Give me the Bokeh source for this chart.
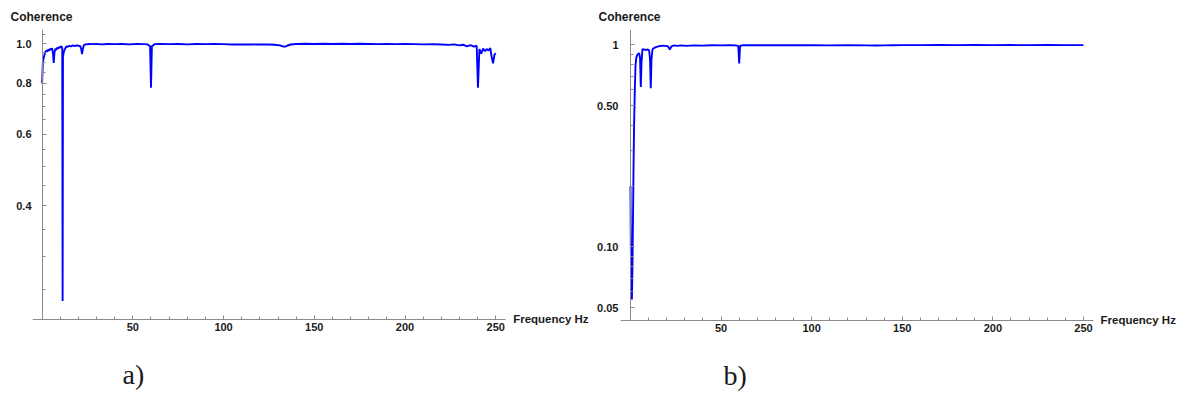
from bokeh.plotting import figure
from bokeh.models import (Range1d, FixedTicker, Label, Title, LogAxis,
                          CustomJSTickFormatter, PrintfTickFormatter)
from bokeh.layouts import row
from bokeh.embed import file_html
from bokeh.resources import INLINE

# ---------------- data ----------------
freq_a = [0, 0.4, 0.8, 1.2, 1.6, 2.0, 2.5, 3.0, 3.5, 4.0, 4.5, 5.0, 5.5, 6.0, 6.4, 6.8, 7.3, 7.8, 8.3, 8.8,
          9.3, 9.8, 10.3, 10.8, 11.1, 11.3, 11.5, 12.0, 12.5, 13.0, 13.5, 14.0, 15, 16, 17, 18, 19, 20, 21,
          21.5, 22.0, 22.5, 23.0, 24, 26, 28, 30, 33, 36, 40, 44, 48, 52, 56, 58, 59.5, 60.0, 60.5, 62, 65,
          70, 75, 80, 85, 90, 95, 100, 105, 110, 115, 120, 125, 128, 131, 133, 134, 135, 137, 140, 145, 150,
          155, 160, 165, 170, 175, 180, 185, 190, 195, 200, 205, 210, 215, 220, 224, 227, 230, 232, 234, 236,
          238, 239.5, 240.2, 241, 242, 243, 244, 245, 246, 247, 247.7, 248.5, 249.3, 250]
coh_a = [0.80, 0.90, 0.92, 0.935, 0.95, 0.958, 0.962, 0.955, 0.968, 0.962, 0.972, 0.966, 0.975, 0.945, 0.897,
         0.95, 0.972, 0.965, 0.978, 0.972, 0.982, 0.976, 0.985, 0.982, 0.975, 0.234, 0.93, 0.955, 0.968, 0.978,
         0.985, 0.982, 0.988, 0.984, 0.99, 0.986, 0.99, 0.988, 0.986, 0.972, 0.943, 0.972, 0.992, 0.996, 0.998,
         0.997, 0.998, 0.996, 0.998, 0.997, 0.998, 0.996, 0.998, 0.997, 0.996, 0.985, 0.78, 0.985, 0.997, 0.998,
         0.997, 0.998, 0.996, 0.998, 0.997, 0.998, 0.997, 0.995, 0.996, 0.995, 0.996, 0.995, 0.994, 0.99, 0.984,
         0.983, 0.988, 0.995, 0.998, 0.999, 0.998, 0.999, 0.998, 0.999, 0.998, 0.999, 0.998, 0.997, 0.998, 0.997,
         0.998, 0.997, 0.996, 0.997, 0.995, 0.993, 0.996, 0.99, 0.994, 0.985, 0.992, 0.983, 0.988, 0.78, 0.97,
         0.945, 0.972, 0.958, 0.97, 0.962, 0.975, 0.93, 0.895, 0.94, 0.947]

freq_b = [0, 0.2, 0.5, 0.8, 1.1, 1.4, 1.7, 2.0, 2.4, 2.8, 3.3, 4.0, 4.8, 5.3, 5.7, 6.1, 6.6, 7.5, 8.5, 9.5,
          10.3, 10.8, 11.2, 11.6, 12.2, 13, 14, 15, 16, 17, 18, 19.5, 20.7, 21.7, 22.7, 24, 26, 28, 31, 35,
          40, 45, 50, 55, 58, 59.5, 60, 60.5, 62, 66, 70, 75, 80, 90, 100, 110, 120, 130, 135, 140, 145, 150,
          160, 170, 180, 190, 200, 210, 220, 230, 240, 250]
coh_b = [0.2, 0.1, 0.06, 0.055, 0.08, 0.14, 0.25, 0.4, 0.6, 0.8, 0.87, 0.9, 0.91, 0.86, 0.62, 0.82, 0.952,
         0.95, 0.945, 0.95, 0.94, 0.85, 0.61, 0.85, 0.955, 0.965, 0.975, 0.982, 0.988, 0.99, 0.992, 0.99, 0.985,
         0.948, 0.985, 0.995, 0.99, 0.995, 0.99, 0.995, 0.993, 0.997, 0.995, 0.997, 0.996, 0.99, 0.81, 0.99,
         0.997, 0.998, 0.997, 0.998, 0.997, 0.998, 0.997, 0.996, 0.997, 0.995, 0.994, 0.995, 0.997, 0.998,
         0.998, 0.999, 0.998, 0.999, 0.998, 0.999, 0.998, 0.999, 0.998, 0.998]

x_major = [50, 100, 150, 200, 250]
x_minor = [10, 20, 30, 40, 60, 70, 80, 90, 110, 120, 130, 140, 160, 170, 180, 190, 210, 220, 230, 240]
ya_major = [0.4, 0.6, 0.8, 1.0]
ya_minor = [0.25, 0.3, 0.35, 0.45, 0.5, 0.55, 0.65, 0.7, 0.75, 0.85, 0.9, 0.95, 1.05]
yb_major = [0.05, 0.1, 0.5, 1.0]
yb_minor = [0.06, 0.07, 0.08, 0.09, 0.2, 0.3, 0.4, 0.6, 0.7, 0.8, 0.9]

AXIS_COL = "#8a8a8a"
TXT_COL = "#1a1a1a"
LINE_COL = "#0000ff"
X_AXIS_START = -5.3
X_AXIS_END = 255.4


def style_ticks(ax):
    ax.axis_line_color = AXIS_COL
    ax.major_tick_line_color = AXIS_COL
    ax.minor_tick_line_color = AXIS_COL
    ax.major_tick_in = 4
    ax.major_tick_out = 0
    ax.minor_tick_in = 3
    ax.minor_tick_out = 0


def style_labels(ax, standoff):
    ax.major_label_text_font = "Liberation Sans"
    ax.major_label_text_font_size = "11px"
    ax.major_label_text_font_style = "bold"
    ax.major_label_text_color = TXT_COL
    ax.major_label_standoff = standoff


def make(freq, coh, x_lo, x_hi, y_lo, y_hi, y_axis_lo, yt_major, yt_minor, yfmt,
         left_border, top_border, fw, fh, label_standoff):
    p = figure(frame_width=fw, frame_height=fh, min_border_left=left_border,
               min_border_right=0, min_border_top=top_border, min_border_bottom=54,
               x_range=Range1d(x_lo, x_hi), y_range=Range1d(y_lo, y_hi), y_axis_type="log",
               output_backend="svg", toolbar_location=None, title=None)
    p.xgrid.visible = False
    p.ygrid.visible = False
    p.outline_line_color = None
    p.line(freq, coh, line_color=LINE_COL, line_width=1.9)

    # x axis: crosses at the bottom of the plotted range
    xa = p.xaxis[0]
    xa.ticker = FixedTicker(ticks=x_major, minor_ticks=x_minor)
    xa.fixed_location = y_axis_lo
    xa.bounds = (X_AXIS_START, X_AXIS_END)
    style_ticks(xa)
    style_labels(xa, 4)

    # y axis labels (at frame edge, no line)
    ya = p.yaxis[0]
    ya.ticker = FixedTicker(ticks=yt_major, minor_ticks=[])
    ya.formatter = yfmt
    ya.axis_line_color = None
    ya.major_tick_line_color = None
    ya.minor_tick_line_color = None
    style_labels(ya, label_standoff)

    # y axis line and ticks at x = 0
    yl = LogAxis(fixed_location=0, bounds=(y_axis_lo, y_hi),
                 ticker=FixedTicker(ticks=yt_major, minor_ticks=yt_minor),
                 formatter=CustomJSTickFormatter(code="return '';"))
    style_ticks(yl)
    p.add_layout(yl, "left")
    return p


# panel a: 408 px per decade, 1.8145 px per Hz
p1 = make(freq_a, coh_a, -5.3, -5.3 + 562 / 1.8145, 0.182, 1.083, 0.211,
          ya_major, ya_minor, PrintfTickFormatter(format="%.1f"),
          32, 29, 562, 316, -5)
# panel b: 202 px per decade, 1.812 px per Hz
p2 = make(freq_b, coh_b, -5.5, -5.5 + 564 / 1.812, 0.03216, 1.193, 0.04326,
          yb_major, yb_minor,
          CustomJSTickFormatter(code="return tick >= 1 ? '1' : tick.toFixed(2);"),
          26, 28, 564, 317, -4)


def add_texts(p, fx, fy, title_offset, tag, tag_offset):
    p.add_layout(Title(text="Coherence", align="left", offset=title_offset, standoff=12,
                       text_font="Liberation Sans", text_font_size="12px",
                       text_font_style="bold", text_color=TXT_COL), "above")
    p.add_layout(Label(x=fx, y=fy, text="Frequency Hz", text_font="Liberation Sans",
                       text_font_size="11.5px", text_font_style="bold", text_color=TXT_COL,
                       text_align="left", text_baseline="middle"))
    p.add_layout(Title(text=tag, align="left", offset=tag_offset, standoff=22,
                       text_font="Liberation Serif", text_font_size="28px",
                       text_font_style="normal", text_color=TXT_COL), "below")


add_texts(p1, 259.6, 0.2112, -22, "a)", 90)
add_texts(p2, 259.4, 0.0436, -22, "b)", 103)

layout = row(p1, p2)
open("out.html", "w").write(file_html(layout, INLINE))
